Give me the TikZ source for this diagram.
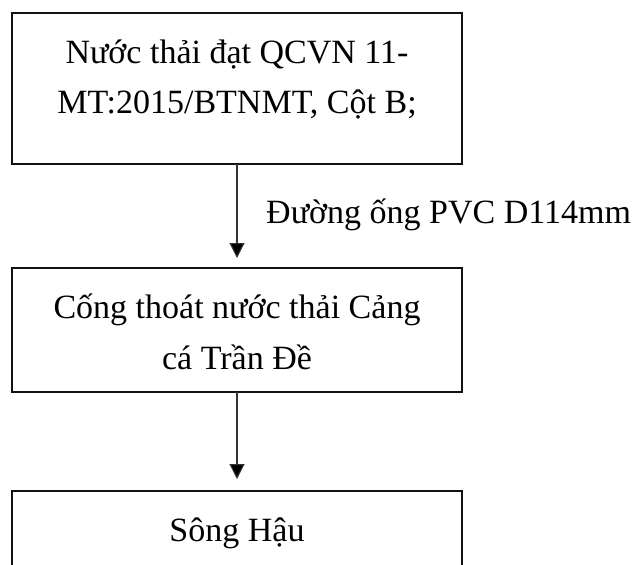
\documentclass[tikz,border=0pt]{standalone}
\usepackage{fontspec}
\setmainfont{Liberation Serif}
\usetikzlibrary{arrows.meta}
\begin{document}
\begin{tikzpicture}[x=1pt,y=-1pt,
  frame/.style={draw=black!93, line width=2pt, minimum width=450pt,
                inner sep=0pt, outer sep=0pt},
  txt/.style={font=\fontsize{34}{51}\selectfont, inner sep=0pt, anchor=base},
  flow/.style={draw=black!80, line width=1.1pt,
               -{Triangle[width=15pt,length=15pt,fill=black]}}]
\useasboundingbox (0,0) rectangle (640,565);
\clip (0,0) rectangle (640,565);

% process boxes
\node[frame, minimum height=151pt] (b1) at (237,88.5) {};
\node[frame, minimum height=124pt] (b2) at (237,330) {};
\node[frame, minimum height=130pt] (b3) at (237,556) {};

% box texts
\node[txt] (t1a) at (237,63)  {Nước thải đạt QCVN 11-};
\node[txt] (t1b) at (237,113) {MT:2015/BTNMT, Cột B;};
\node[txt] (t2a) at (237,318) {Cống thoát nước thải Cảng};
\node[txt] (t2b) at (237,369) {cá Trần Đề};
\node[txt] (t3)  at (237,541) {Sông Hậu};

% connectors
\draw[flow, shorten >=10pt] (b1.south) -- (b2.north);
\draw[flow, shorten >=12pt] (b2.south) -- (b3.north);
\node[txt, anchor=base west] (lbl) at (266,223) {Đường ống PVC D114mm};
\end{tikzpicture}
\end{document}
